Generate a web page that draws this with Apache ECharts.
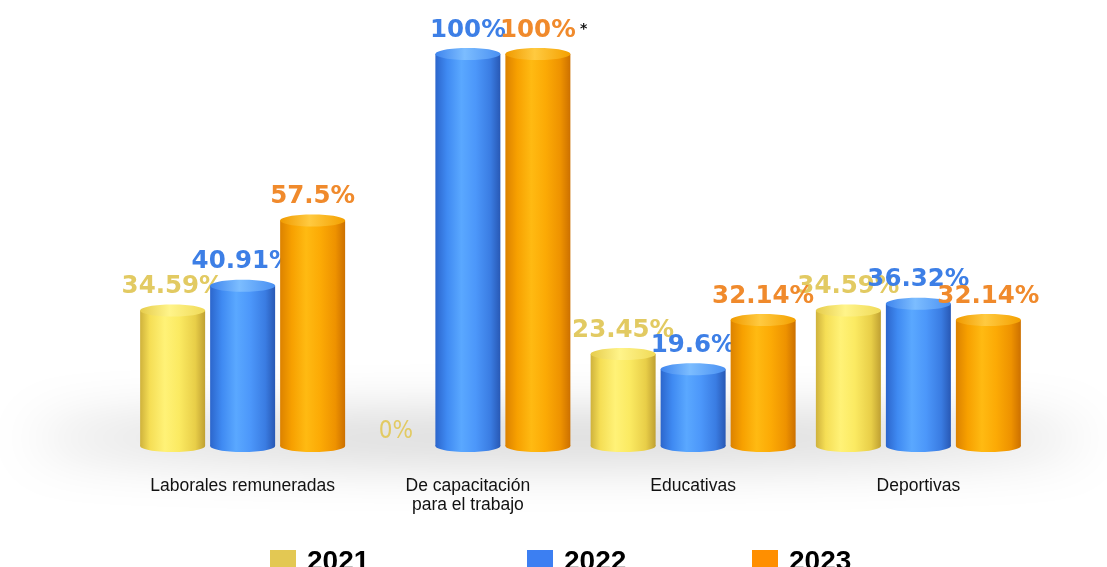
<!DOCTYPE html>
<html>
<head>
<meta charset="utf-8">
<script src="https://cdn.jsdelivr.net/npm/echarts@6/dist/echarts.min.js"></script>
<style>html,body{margin:0;padding:0;background:#fff}#c{width:1107px;height:567px}</style>
</head>
<body>
<div id="c"></div>
<script>
const categories = ['Laborales remuneradas', 'De capacitación\npara el trabajo', 'Educativas', 'Deportivas'];
const seriesNames = ['2021', '2022', '2023'];
const values2021 = [34.59, 0, 23.45, 34.59];
const values2022 = [40.91, 100, 19.6, 36.32];
const values2023 = [57.5, 100, 32.14, 32.14];
const labels2021 = ['34.59%', '0%', '23.45%', '34.59%'];
const labels2022 = ['40.91%', '100%', '19.6%', '36.32%'];
const labels2023 = ['57.5%', '100%', '32.14%', '32.14%'];
const notes2023 = ['', '*', '', ''];

const allValues = [values2021, values2022, values2023];
const allLabels = [labels2021, labels2022, labels2023];
const allNotes = [['', '', '', ''], ['', '', '', ''], notes2023];

const legendColors = ['#E3C853', '#3C7FF2', '#FF8F00'];
const labelColors = ['#E2CA62', '#3D7FE6', '#F08A2C'];
const bodyStops = [
  [['#CFB23C',0],['#F5DE55',0.15],['#FFF277',0.38],['#FBEA62',0.6],['#E8CE48',0.85],['#BFA032',1]],
  [['#2C66CC',0],['#3F8AF2',0.18],['#5AA8FF',0.4],['#4C97FA',0.62],['#3A7CE2',0.85],['#2858B4',1]],
  [['#DC8200',0],['#F7A000',0.18],['#FFBA12',0.4],['#FCAA05',0.62],['#EE9200',0.85],['#CC7000',1]]
];
const topStops = [
  [['#E6CC4C',0],['#FFF48A',0.45],['#F0DA58',1]],
  [['#3F85EE',0],['#7CBDFF',0.45],['#4A90F2',1]],
  [['#F09A00',0],['#FFCA40',0.45],['#F4A000',1]]
];
function grad(stops){
  return {type:'linear',x:0,y:0,x2:1,y2:0,colorStops:stops.map(s=>({offset:s[1],color:s[0]}))};
}

const BAR_W = 65, STEP = 70, RY = 6;

function makeSeries(si){
  return {
    type: 'custom',
    name: seriesNames[si],
    itemStyle: {color: legendColors[si]},
    data: allValues[si].map((v,i)=>[i,v]),
    renderItem: function(params, api){
      const cat = api.value(0), val = api.value(1);
      const top = api.coord([cat, val]);
      const base = api.coord([cat, 0]);
      const cx = top[0] + (si - 1) * STEP;
      const x0 = cx - BAR_W/2;
      const children = [];
      const label = allLabels[si][params.dataIndex];
      if (val > 0) {
        children.push({type:'ellipse', shape:{cx:cx, cy:base[1], rx:BAR_W/2, ry:RY}, style:{fill:grad(bodyStops[si])}});
        children.push({type:'rect', shape:{x:x0, y:top[1], width:BAR_W, height:base[1]-top[1]}, style:{fill:grad(bodyStops[si])}});
        children.push({type:'ellipse', shape:{cx:cx, cy:top[1], rx:BAR_W/2, ry:RY}, style:{fill:grad(topStops[si])}});
        children.push({type:'text', style:{text:label, x:cx, y:top[1]-RY-5, align:'center', verticalAlign:'bottom',
          fill:labelColors[si], font:'bold 24.5px "DejaVu Sans"'}});
        const note = allNotes[si][params.dataIndex];
        if (note) {
          children.push({type:'text', style:{text:note, x:cx+42, y:top[1]-RY-12, align:'left', verticalAlign:'bottom',
            fill:'#111', font:'bold 14px "DejaVu Sans"'}});
        }
      } else {
        children.push({type:'text', style:{text:label, x:cx-2, y:base[1]-2, align:'center', verticalAlign:'bottom',
          fill:labelColors[si], font:'24px "DejaVu Sans Condensed"'}});
      }
      return {type:'group', children: children};
    }
  };
}

const legendText = {fontFamily:'Liberation Sans', fontWeight:'bold', fontSize: 28, color:'#000', padding:[0,0,0,6]};
const chart = echarts.init(document.getElementById('c'));
chart.setOption({
  backgroundColor: '#ffffff',
  animation: false,
  graphic: [{
    type: 'ellipse', z: -10, silent: true,
    shape: {cx: 560, cy: -2000, rx: 530, ry: 16},
    style: {fill: '#000', shadowColor: 'rgba(0,0,0,0.26)', shadowBlur: 55, shadowOffsetX: 0, shadowOffsetY: 2438}
  }],
  grid: {left: 130, right: 76, top: 54, bottom: 121},
  xAxis: {
    type: 'category', data: categories,
    axisLine: {show:false}, axisTick: {show:false},
    axisLabel: {interval: 0, margin: 31, color:'#111', fontFamily:'Liberation Sans', fontSize: 17.5, lineHeight: 19}
  },
  yAxis: {type:'value', min:0, max:100, show:false},
  legend: [
    {data: ['2021'], left: 265, top: 543, itemWidth: 26, itemHeight: 24, icon: 'rect', textStyle: legendText},
    {data: ['2022'], left: 522, top: 543, itemWidth: 26, itemHeight: 24, icon: 'rect', textStyle: legendText},
    {data: ['2023'], left: 747, top: 543, itemWidth: 26, itemHeight: 24, icon: 'rect', textStyle: legendText}
  ],
  series: [makeSeries(0), makeSeries(1), makeSeries(2)]
});
</script>
</body>
</html>
